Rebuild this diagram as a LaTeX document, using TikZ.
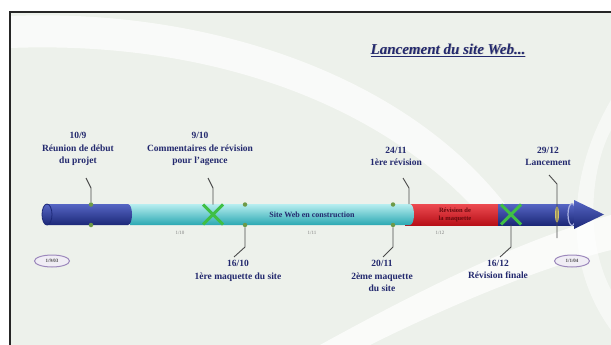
\documentclass[tikz,border=0pt]{standalone}
\usepackage{fontspec}
\setmainfont{Liberation Serif}
\usetikzlibrary{shapes.geometric,shapes.misc}
\definecolor{fond}{HTML}{EDF1EB}
\definecolor{marine}{HTML}{23296E}
\definecolor{bleubarre}{HTML}{2B3A9E}
\definecolor{bleuclair}{HTML}{5666C4}
\definecolor{bleufonce}{HTML}{1C2878}
\definecolor{cyanbarre}{HTML}{3EC3CB}
\definecolor{cyanclair}{HTML}{B8EEF0}
\definecolor{cyanfonce}{HTML}{2AA8B2}
\definecolor{rouge}{HTML}{E81E26}
\definecolor{rougefonce}{HTML}{B81018}
\definecolor{vertx}{HTML}{3FBF45}
\definecolor{olive}{HTML}{6E9A48}
\definecolor{trait}{HTML}{4A4A4A}
\definecolor{lilas}{HTML}{9C88BC}
\definecolor{ocre}{HTML}{D4C46A}
\tikzset{
  >=latex,
  jalon/.style={font=\fontsize{9.5}{12.5}\selectfont\bfseries, text=marine, align=center, inner sep=0pt},
  lien/.style={draw=trait, line width=0.9pt},
  pastille/.style={circle, fill=olive, inner sep=0pt, minimum size=4.5pt},
  croix/.style={cross out, draw=vertx, line width=3pt, minimum width=17pt, minimum height=17pt, inner sep=0pt},
  mois/.style={font=\fontsize{5}{6}\selectfont, text=black!50},
  borne/.style={ellipse, draw=lilas, fill=white!85!lilas, line width=1pt, minimum width=35pt, minimum height=12pt, inner sep=0pt, font=\fontsize{5}{6}\selectfont\bfseries, text=black!70},
}

\begin{document}
\begin{tikzpicture}[x=1pt,y=-1pt]
  \useasboundingbox (0,0) rectangle (611,345);
  \fill[white] (0,0) rectangle (611,345);
  \fill[fond] (10,12) rectangle (611,345);
  \begin{scope}
    \clip (10,12) rectangle (611,345);
    \fill[white,opacity=.7] (10,16) .. controls (200,8) and (400,70) .. (505,204) -- (470,204) .. controls (380,110) and (220,40) .. (10,48) -- cycle;
    \fill[white,opacity=.75] (320,345) .. controls (420,290) and (520,240) .. (611,215) -- (611,250) .. controls (530,270) and (430,315) .. (370,345) -- cycle;
    \fill[white,opacity=.55] (611,100) .. controls (570,170) and (560,260) .. (611,330) -- (611,290) .. controls (585,240) and (590,170) .. (611,130) -- cycle;
  \end{scope}
  \draw[line width=1.8pt,black!85] (10,345) -- (10,12) -- (611,12);

  % titre
  \node[font=\fontsize{15}{17}\selectfont\bfseries\itshape, text=black!30, xshift=.8pt, yshift=-.8pt] at (448,50) {\underline{Lancement du site Web...}};
  \node[font=\fontsize{15}{17}\selectfont\bfseries\itshape, text=marine] (titre) at (448,50) {\underline{Lancement du site Web...}};

  % barre
  \shade[top color=rouge!80!white, middle color=rouge, bottom color=rougefonce] (405,204) rectangle (500,225);
  \shade[top color=bleuclair, middle color=bleubarre, bottom color=bleufonce] (498,204) rectangle (577,225);
  \draw[bleuclair!50!white, line width=1.2pt] (572,214.5) ellipse (4pt and 11pt);
  \shade[top color=bleuclair, middle color=bleubarre, bottom color=bleufonce] (574,200) -- (604,214.5) -- (574,229) -- cycle;
  \shade[top color=cyanclair, middle color=cyanbarre, bottom color=cyanfonce] (130,204) rectangle (410,225) (410,214.5) ellipse (4pt and 10.5pt);
  \shade[top color=bleuclair, middle color=bleubarre, bottom color=bleufonce] (47,204) rectangle (128,225) (128,214.5) ellipse (4pt and 10.5pt) (47,214.5) ellipse (5pt and 10.5pt);
  \draw[bleufonce, line width=.8pt] (47,214.5) ellipse (5pt and 10.5pt);

  \node[font=\fontsize{8}{9}\selectfont\bfseries, text=marine] (construction) at (312,214.5) {Site Web en construction};
  \node[font=\fontsize{6.5}{8}\selectfont\bfseries, text=rougefonce!55!black, align=center] (maquette) at (455,214.5) {Révision de\\la maquette};

  % reperes
  \node[pastille] (p1h) at (91,204.5) {};
  \node[pastille] (p1b) at (91,225) {};
  \node[croix] (x1) at (213,214.5) {};
  \node[pastille] (p2h) at (245,204.5) {};
  \node[pastille] (p2b) at (245,225) {};
  \node[pastille] (p3h) at (393,204.5) {};
  \node[pastille] (p3b) at (393,225) {};
  \node[croix] (x2) at (511,214.5) {};
  \node[ellipse, fill=ocre, minimum width=4pt, minimum height=16pt, inner sep=0pt] (lanc) at (557,214.5) {};

  % jalons
  \node[jalon, anchor=south] (j1) at (78,166) {10/9\\Réunion de début\\du projet};
  \node[jalon, anchor=south] (j2) at (200,166) {9/10\\Commentaires de révision\\pour l'agence};
  \node[jalon, anchor=south] (j5) at (396,166) {24/11\\1ère révision};
  \node[jalon, anchor=south] (j7) at (548,166) {29/12\\Lancement};
  \node[jalon, anchor=north] (j3) at (238,260) {16/10\\1ère maquette du site};
  \node[jalon, anchor=north] (j4) at (382,260) {20/11\\2ème maquette\\du site};
  \node[jalon, anchor=north] (j6) at (498,260) {16/12\\Révision finale};

  \coordinate (d1) at (86,178);
  \coordinate (d2) at (208,178);
  \coordinate (d5) at (403,178);
  \coordinate (f5) at (409,204);
  \coordinate (d7) at (549,175);
  \coordinate (f7) at (557,238);
  \coordinate (e3) at (234,257);
  \coordinate (e4) at (383,257);
  \coordinate (e6) at (500,257);
  \draw[lien] (d1) -- ++(5,10) -- (p1h);
  \draw[lien] (d2) -- ++(5,10) -- (x1);
  \draw[lien] (d5) -- ++(6,10) -- (f5);
  \draw[lien] (d7) -- ++(8,9) -- (f7);
  \draw[lien] (p2b) -- ++(0,22) -- (e3);
  \draw[lien] (p3b) -- ++(0,22) -- (e4);
  \draw[lien] (x2) -- ++(0,32.5) -- (e6);

  % dates
  \node[mois] (m10) at (180,233) {1/10};
  \node[mois] (m11) at (312,233) {1/11};
  \node[mois] (m12) at (440,233) {1/12};
  \node[borne] (debut) at (52,261) {1/9/03};
  \node[borne] (fin) at (572,261) {1/1/04};
\end{tikzpicture}
\end{document}
